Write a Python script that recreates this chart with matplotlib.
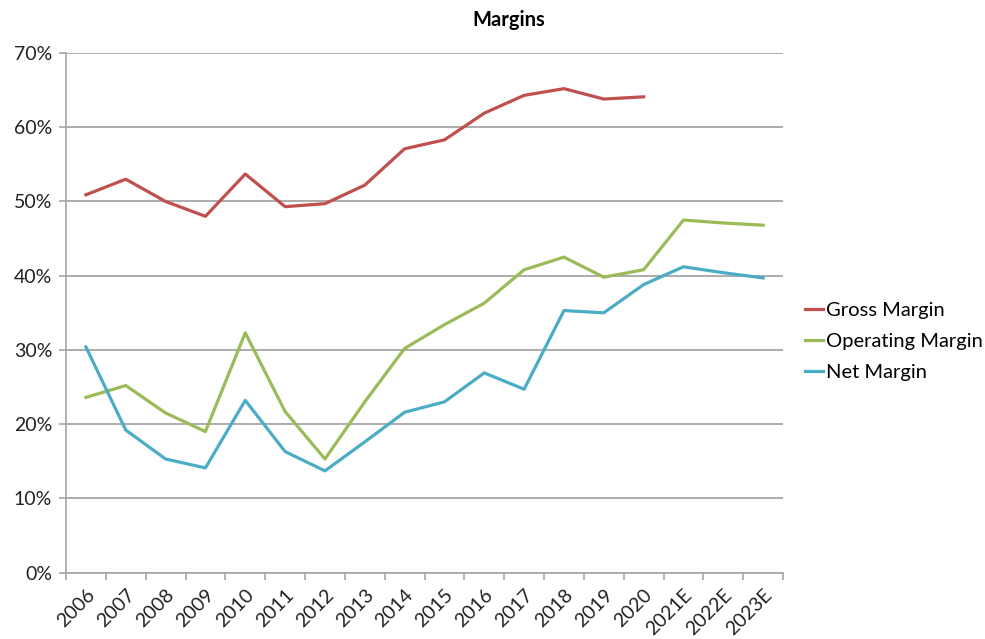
import numpy as np
import matplotlib
matplotlib.use("Agg")
import matplotlib.pyplot as plt
from matplotlib.ticker import FuncFormatter, FixedLocator

# categorias y series (%)
years = ["2006", "2007", "2008", "2009", "2010", "2011", "2012", "2013", "2014",
         "2015", "2016", "2017", "2018", "2019", "2020", "2021E", "2022E", "2023E"]
gross_margin = [50.9, 53.0, 50.0, 48.0, 53.7, 49.3, 49.7, 52.2, 57.1,
                58.3, 61.9, 64.3, 65.2, 63.8, 64.1, np.nan, np.nan, np.nan]
operating_margin = [23.6, 25.2, 21.5, 19.0, 32.3, 21.7, 15.3, 23.0, 30.2,
                    33.4, 36.3, 40.8, 42.5, 39.8, 40.8, 47.5, 47.1, 46.8]
net_margin = [30.4, 19.2, 15.3, 14.1, 23.2, 16.3, 13.7, 17.6, 21.6,
              23.0, 26.9, 24.7, 35.3, 35.0, 38.8, 41.2, 40.4, 39.7]

plt.rcParams['font.family'] = ['Lato', 'DejaVu Sans']

fig = plt.figure(figsize=(9.85, 6.39), dpi=100)
ax = fig.add_axes([0.067, 0.104, 0.728, 0.813])

x = np.arange(len(years))
ax.plot(x, gross_margin, color='#C0504D', lw=2.3, label='Gross Margin')
ax.plot(x, operating_margin, color='#9BBB59', lw=2.3, label='Operating Margin')
ax.plot(x, net_margin, color='#4BACC6', lw=2.3, label='Net Margin')

ax.set_xlim(-0.5, len(years) - 0.5)
ax.set_ylim(0, 70)
ax.set_yticks(np.arange(0, 71, 10))
ax.yaxis.set_major_formatter(FuncFormatter(lambda v, p: '%d%%' % v))
ax.grid(axis='y', color='#A6A6A6', lw=1.3)
ax.set_axisbelow(True)

ax.set_xticks(x)
ax.set_xticklabels(years, rotation=45, ha='right', rotation_mode='anchor')
ax.xaxis.set_minor_locator(FixedLocator(np.arange(-0.5, len(years), 1)))
ax.tick_params(axis='x', which='major', length=0, pad=10, labelsize=14, colors='#222222')
ax.tick_params(axis='x', which='minor', length=5, color='#A6A6A6', width=1.2)
ax.tick_params(axis='y', length=5, color='#A6A6A6', width=1.2, labelsize=14,
               colors='#222222', pad=5)

for s in ['top', 'right']:
    ax.spines[s].set_visible(False)
for s in ['left', 'bottom']:
    ax.spines[s].set_color('#A6A6A6')
    ax.spines[s].set_linewidth(1.2)

fig.text(0.516, 0.968, 'Margins', ha='center', va='center', fontsize=14.5, fontweight='bold')

leg = ax.legend(loc='center left', bbox_to_anchor=(1.005, 0.445), frameon=False,
                fontsize=14.5, handlelength=0.9, handletextpad=0.15, labelspacing=0.68)

fig.savefig('out.png', dpi=100)
